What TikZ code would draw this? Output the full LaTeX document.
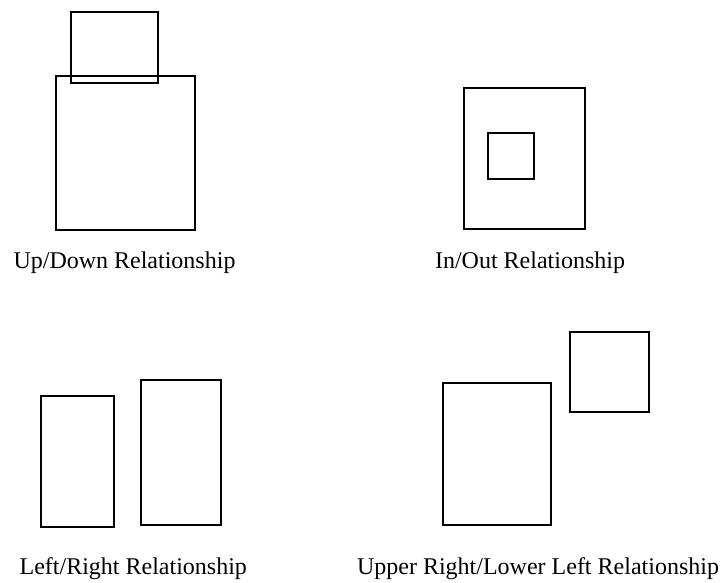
\documentclass[tikz,border=0pt]{standalone}
\usepackage{fontspec}
\setmainfont{Liberation Serif}
\begin{document}
\begin{tikzpicture}[x=1pt,y=-1pt,
  box/.style={draw=black, line width=2.6pt, inner sep=0pt, outer sep=0pt, rectangle},
  caption/.style={anchor=base, inner sep=0pt, font=\fontsize{24}{28}\selectfont}]
  \useasboundingbox (0,0) rectangle (720,582);

  % Up/Down pair
  \node[box, minimum width=139pt, minimum height=154pt] (udlow) at (125.5,153) {};
  \node[box, minimum width=87pt, minimum height=71pt] (udup) at (114.5,47.5) {};
  \node[caption] (udlabel) at (124.5,268) {Up/Down Relationship};

  % In/Out pair
  \node[box, minimum width=121pt, minimum height=141pt] (ioout) at (524.5,158.5) {};
  \node[box, minimum width=46pt, minimum height=46pt] (ioin) at (511,156) {};
  \node[caption] (iolabel) at (530,268) {In/Out Relationship};

  % Left/Right pair
  \node[box, minimum width=73pt, minimum height=131pt] (lrleft) at (77.5,461.5) {};
  \node[box, minimum width=80pt, minimum height=145pt] (lrright) at (181,452.5) {};
  \node[caption] (lrlabel) at (133.3,574) {Left/Right Relationship};

  % Upper right / lower left pair
  \node[box, minimum width=108pt, minimum height=142pt] (ullow) at (497,454) {};
  \node[box, minimum width=79pt, minimum height=80pt] (ulup) at (609.5,372) {};
  \node[caption] (ullabel) at (538,574) {Upper Right/Lower Left Relationship};
\end{tikzpicture}
\end{document}
